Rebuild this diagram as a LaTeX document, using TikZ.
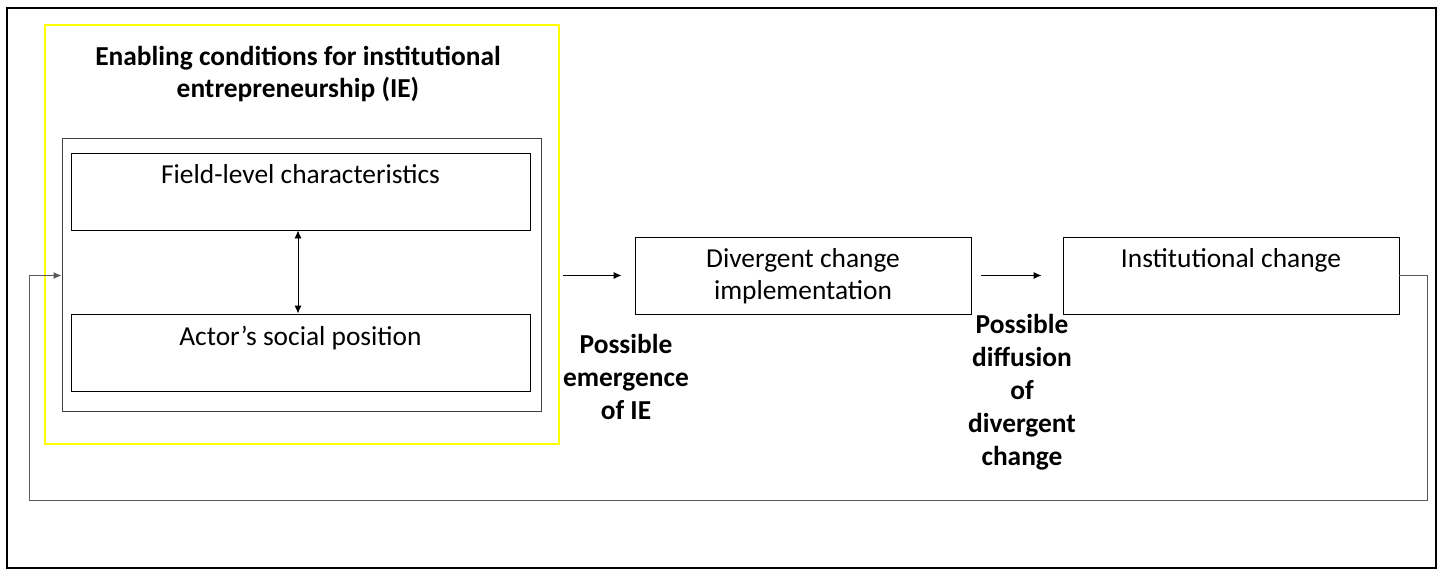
\documentclass[tikz,border=0pt]{standalone}
\usepackage{fontspec}
\setmainfont{Carlito}
\usetikzlibrary{arrows.meta}
\begin{document}
\begin{tikzpicture}[x=1pt,y=-1pt,
  box/.style={draw=black,line width=0.9pt,rectangle,inner sep=0pt},
  boxtext/.style={anchor=north,inner sep=0pt,align=center,font=\fontsize{27.4}{32}\selectfont},
  lbl/.style={inner sep=0pt,align=center,font=\fontsize{27.4}{33}\selectfont\bfseries,anchor=north},
  arr/.style={line width=0.9pt,-{Latex[length=8pt,width=7pt]}},
  dblarr/.style={line width=0.9pt,{Latex[length=8pt,width=7pt]}-{Latex[length=8pt,width=7pt]}},
  fb/.style={draw=black!65,line width=1pt}
]
\useasboundingbox (0,0) rectangle (1442,571);
% outer frame
\node[draw=black,line width=2.6pt,minimum width=1429pt,minimum height=560pt,inner sep=0pt] (frame) at (721.5,288) {};
% yellow box
\node[draw={rgb,255:red,255;green,255;blue,0},line width=2.6pt,minimum width=514pt,minimum height=419pt,inner sep=0pt] (ybox) at (302,234.5) {};
\node[lbl,font=\fontsize{27.4}{31.7}\selectfont\bfseries] (title) at (298,46) {Enabling conditions for institutional\\entrepreneurship (IE)};
% inner gray box
\node[draw=black!75,line width=1pt,minimum width=479pt,minimum height=273pt,inner sep=0pt] (gbox) at (301.5,274.5) {};
% field-level
\node[box,minimum width=459pt,minimum height=77pt] (field) at (300.5,191.5) {};
\node[boxtext] (fieldt) at ([yshift=-12pt]field.north) {Field-level characteristics};
% actor
\node[box,minimum width=459pt,minimum height=77pt] (actor) at (300.5,352.5) {};
\node[boxtext] (actort) at ([yshift=-12pt]actor.north) {Actor’s social position};
% divergent
\node[box,minimum width=336pt,minimum height=77pt] (div) at (803,275.5) {};
\node[boxtext] (divt) at ([yshift=-12pt]div.north) {Divergent change\\implementation};
% institutional change
\node[box,minimum width=336pt,minimum height=77pt] (inst) at (1231,275.5) {};
\node[boxtext] (instt) at ([yshift=-12pt]inst.north) {Institutional change};
% labels
\node[lbl] (emerg) at (626,334) {Possible\\emergence\\of IE};
\node[lbl] (diff) at (1022,314) {Possible\\diffusion\\of\\divergent\\change};
% connectors
\draw[dblarr] (field.south -| 298,0) -- (actor.north -| 298,0);
\draw[arr] ([xshift=3pt]ybox.east |- div.west) -- ([xshift=-13pt]div.west);
\draw[arr] ([xshift=10pt]div.east) -- ([xshift=-21pt]inst.west);
\coordinate (c1) at (1427,275.5);
\coordinate (c2) at (1427,500);
\coordinate (c3) at (29,500);
\coordinate (c4) at (29,275.5);
\draw[fb] (inst.east) -- (c1) -- (c2) -- (c3) -- (c4);
\draw[fb,-{Latex[length=8pt,width=7pt]}] (c4) -- (gbox.west |- c4);
\end{tikzpicture}
\end{document}
